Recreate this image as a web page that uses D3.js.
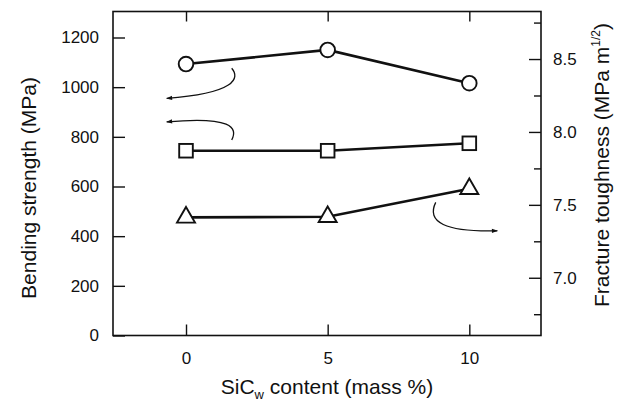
<!DOCTYPE html>
<html>
<head>
<meta charset="utf-8">
<script src="https://cdn.jsdelivr.net/npm/d3@7"></script>
<style>
  html, body { margin: 0; padding: 0; background: #fff; }
  svg { display: block; }
  text { font-family: "Liberation Sans", Arial, Helvetica, sans-serif; fill: #111; }
</style>
</head>
<body>
<svg id="chart" width="631" height="404"></svg>
<script>
// ---- data ----
const xContent = [0, 5, 10];
const circleStrength = [1093, 1150, 1016];      // MPa (left axis)
const squareStrength = [744, 744, 774];         // MPa (left axis)
const triangleToughness = [7.414, 7.418, 7.61]; // MPa m^1/2 (right axis)
const xTickValues = [0, 5, 10];
const leftTickValues = [0, 200, 400, 600, 800, 1000, 1200];
const rightMajorTicks = [7.0, 7.5, 8.0, 8.5];
const rightMinorTicks = [6.75, 7.25, 7.75, 8.25, 8.75];
// annotation arrows (data units: [x, value])
const arrowToLeft1 = [[1.613, 1076], [1.906, 1037], [1.765, 976], [-0.681, 955]];
const arrowToLeft2 = [[1.613, 787], [1.835, 836], [1.624, 884], [-0.681, 860]];
const arrowToRight = [[8.814, 7.517], [8.472, 7.382], [9.142, 7.313], [10.988, 7.322]];

// ---- layout ----
const L = 113, R = 541, T = 11.5, B = 335.5;
const svg = d3.select("#chart");

const x = d3.scaleLinear().domain([-2.577, 12.53]).range([L, R]);
const yL = d3.scaleLinear().domain([0, 1304.7]).range([B, T]);
const yR = d3.scaleLinear().domain([6.604, 8.826]).range([B, T]);

// defs: arrowhead
svg.append("defs").append("marker")
  .attr("id", "ah").attr("viewBox", "0 0 10 10")
  .attr("refX", 9).attr("refY", 5)
  .attr("markerWidth", 7).attr("markerHeight", 6)
  .attr("markerUnits", "userSpaceOnUse")
  .attr("orient", "auto")
  .append("path").attr("d", "M0,1.5 L10,5 L0,8.5 Z").attr("fill", "#111");

// frame
svg.append("rect").attr("x", L).attr("y", T).attr("width", R - L).attr("height", B - T)
  .attr("fill", "none").attr("stroke", "#111").attr("stroke-width", 1.6);

function styleAxis(g, fontSize) {
  g.select(".domain").remove();
  g.selectAll(".tick line").attr("stroke", "#111").attr("stroke-width", 1.4);
  g.selectAll(".tick text").attr("font-size", fontSize).attr("fill", "#111")
    .attr("font-family", '"Liberation Sans", Arial, sans-serif');
}

// left axis
svg.append("g").attr("transform", `translate(${L},0)`)
  .call(d3.axisLeft(yL).tickValues(leftTickValues).tickSizeInner(-12).tickSizeOuter(0).tickPadding(14).tickFormat(d3.format("d")))
  .call(g => styleAxis(g, 17));

// right axis majors
svg.append("g").attr("transform", `translate(${R},0)`)
  .call(d3.axisRight(yR).tickValues(rightMajorTicks).tickSizeInner(-12).tickSizeOuter(0).tickPadding(12).tickFormat(d3.format(".1f")))
  .call(g => styleAxis(g, 17));
// right axis minors
svg.append("g").attr("transform", `translate(${R},0)`)
  .call(d3.axisRight(yR).tickValues(rightMinorTicks).tickSizeInner(-7).tickSizeOuter(0).tickFormat(""))
  .call(g => styleAxis(g, 17));

// bottom axis
svg.append("g").attr("transform", `translate(0,${B})`)
  .call(d3.axisBottom(x).tickValues(xTickValues).tickSizeInner(-11).tickSizeOuter(0).tickPadding(16))
  .call(g => styleAxis(g, 17));
// top axis (ticks only)
svg.append("g").attr("transform", `translate(0,${T})`)
  .call(d3.axisTop(x).tickValues(xTickValues).tickSizeInner(-10).tickSizeOuter(0).tickFormat(""))
  .call(g => styleAxis(g, 17));

// series lines
const lineL = d3.line().x((d, i) => x(xContent[i])).y(d => yL(d));
const lineR = d3.line().x((d, i) => x(xContent[i])).y(d => yR(d));
svg.append("path").attr("d", lineL(circleStrength)).attr("fill", "none").attr("stroke", "#111").attr("stroke-width", 2.6);
svg.append("path").attr("d", lineL(squareStrength)).attr("fill", "none").attr("stroke", "#111").attr("stroke-width", 2.6);
svg.append("path").attr("d", lineR(triangleToughness)).attr("fill", "none").attr("stroke", "#111").attr("stroke-width", 2.6);

// markers
svg.selectAll(".circ").data(circleStrength).join("circle")
  .attr("cx", (d, i) => x(xContent[i])).attr("cy", d => yL(d)).attr("r", 7.3)
  .attr("fill", "#fff").attr("stroke", "#111").attr("stroke-width", 1.9);
svg.selectAll(".sq").data(squareStrength).join("rect")
  .attr("x", (d, i) => x(xContent[i]) - 6.8).attr("y", d => yL(d) - 6.8)
  .attr("width", 13.6).attr("height", 13.6)
  .attr("fill", "#fff").attr("stroke", "#111").attr("stroke-width", 1.9);
const tri = d3.symbol().type(d3.symbolTriangle).size(140);
svg.selectAll(".tri").data(triangleToughness).join("path")
  .attr("transform", (d, i) => `translate(${x(xContent[i])},${yR(d)})`)
  .attr("d", tri())
  .attr("fill", "#fff").attr("stroke", "#111").attr("stroke-width", 1.9).attr("stroke-linejoin", "miter");

// annotation arrows
function arrowPath(pts, ys) {
  const p = pts.map(d => [x(d[0]), ys(d[1])]);
  return `M${p[0]}C${p[1]} ${p[2]} ${p[3]}`;
}
[[arrowToLeft1, yL], [arrowToLeft2, yL], [arrowToRight, yR]].forEach(([pts, ys]) => {
  svg.append("path").attr("d", arrowPath(pts, ys))
    .attr("fill", "none").attr("stroke", "#111").attr("stroke-width", 1.3)
    .attr("marker-end", "url(#ah)");
});

// axis titles
const xt = svg.append("text").attr("x", 327).attr("y", 394).attr("text-anchor", "middle").attr("font-size", 21);
xt.append("tspan").text("SiC");
xt.append("tspan").attr("font-size", 13).attr("dy", 5).text("w");
xt.append("tspan").attr("dy", -5).text(" content (mass %)");

svg.append("text").attr("transform", "translate(36,188) rotate(-90)")
  .attr("text-anchor", "middle").attr("font-size", 21).text("Bending strength (MPa)");

const rt = svg.append("text").attr("transform", "translate(609,165) rotate(-90)")
  .attr("text-anchor", "middle").attr("font-size", 21);
rt.append("tspan").text("Fracture toughness (MPa m");
rt.append("tspan").attr("font-size", 12).attr("dy", -9).text("1/2");
rt.append("tspan").attr("dy", 9).text(")");
</script>
</body>
</html>
